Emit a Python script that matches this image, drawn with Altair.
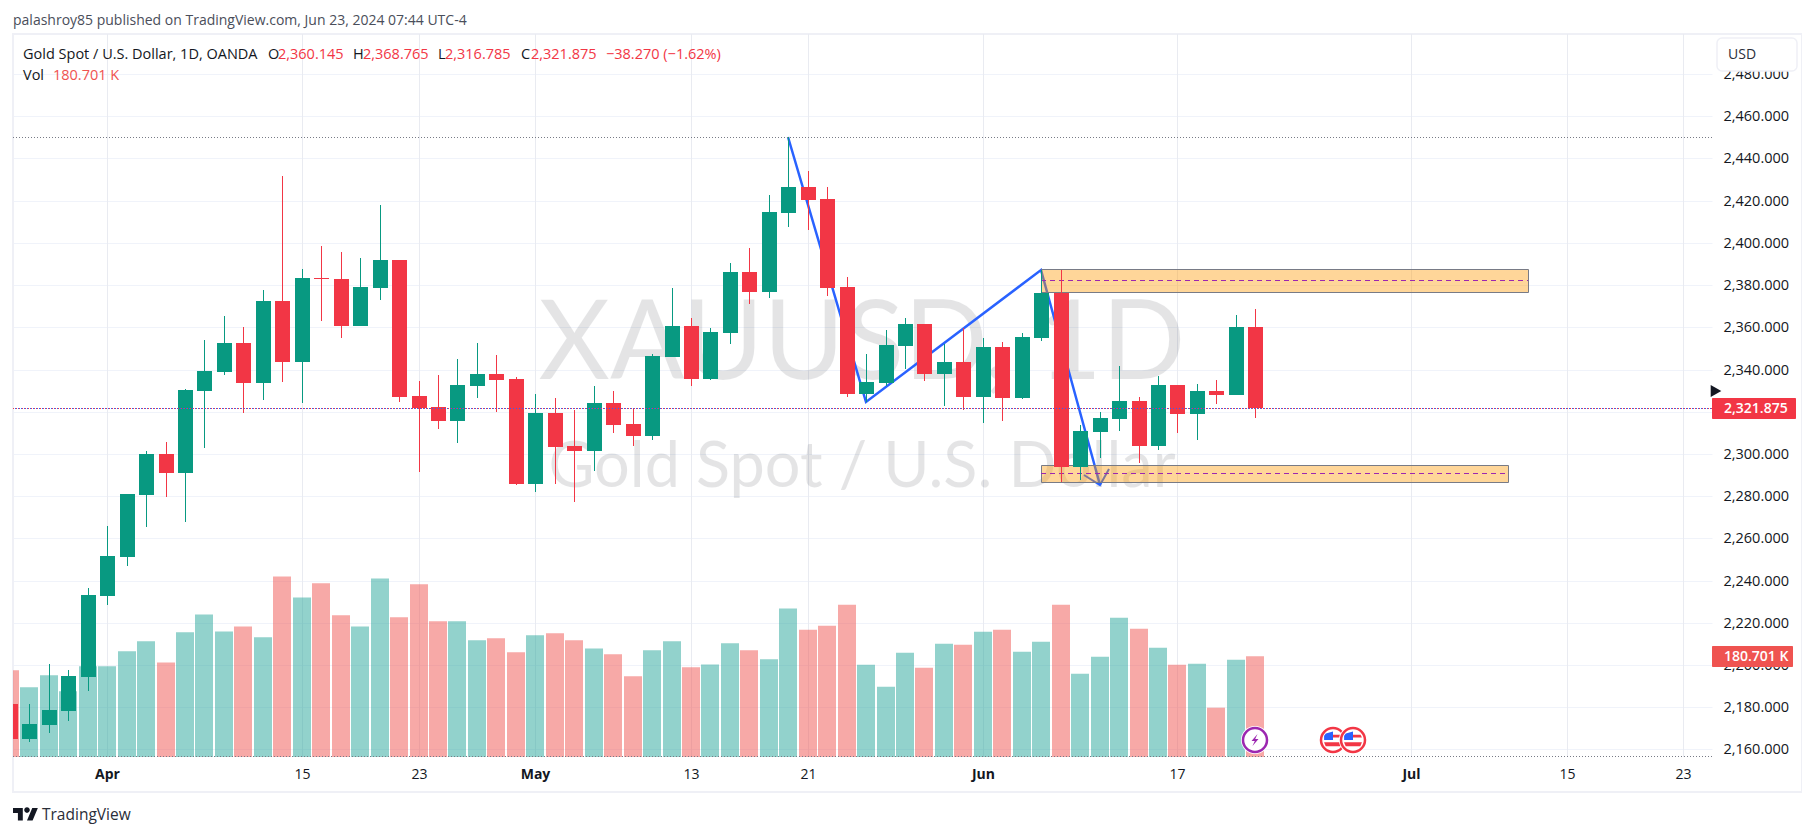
import altair as alt
import pandas as pd

# ---- values ----
bar_open = [2181.5,2164.9,2171.5,2178.2,2194.3,2232.6,2251.1,2280.5,2300.0,2291.0,2329.8,2338.8,2352.6,2333.6,2372.5,2343.6,2383.4,2382.9,2360.6,2378.6,2391.9,2327.4,2322.2,2315.6,2332.2,2337.9,2335.5,2285.7,2319.4,2303.7,2301.4,2324.1,2314.2,2308.5,2345.9,2360.6,2335.5,2357.3,2386.2,2376.7,2414.2,2426.5,2420.8,2379.1,2328.4,2333.6,2351.1,2361.6,2337.9,2343.6,2327.0,2350.7,2326.5,2354.9,2376.2,2293.8,2310.4,2316.5,2325.1,2303.7,2332.7,2318.9,2329.8,2327.9,2360.145]
bar_high = [2181.5,2181.5,2200.4,2197.6,2236.5,2265.8,2281.0,2301.4,2305.6,2330.8,2354.0,2365.4,2360.1,2377.7,2431.7,2387.6,2398.5,2395.7,2392.8,2418.0,2391.9,2334.6,2337.4,2345.0,2352.6,2346.9,2336.5,2328.4,2326.5,2320.8,2332.2,2329.8,2321.8,2347.4,2378.6,2364.4,2359.7,2390.5,2397.6,2422.7,2450.2,2434.1,2426.5,2383.8,2347.4,2358.7,2364.4,2361.6,2352.1,2359.7,2354.9,2353.0,2357.3,2387.1,2387.1,2313.7,2319.9,2341.7,2327.0,2336.9,2332.7,2333.1,2335.0,2365.8,2368.765]
bar_low = [2164.9,2163.5,2167.7,2173.4,2187.6,2228.4,2246.9,2265.4,2279.6,2267.7,2302.8,2337.4,2319.4,2325.5,2334.1,2324.1,2363.0,2354.9,2360.6,2372.9,2324.6,2291.4,2311.8,2305.2,2326.5,2319.9,2285.3,2281.9,2285.7,2277.2,2291.9,2309.9,2303.7,2306.6,2345.9,2332.2,2335.0,2352.1,2371.0,2373.9,2407.5,2406.1,2374.8,2327.0,2324.6,2332.2,2340.2,2334.6,2322.7,2320.8,2314.6,2315.6,2326.0,2353.5,2286.7,2287.6,2298.1,2310.9,2295.7,2301.8,2309.9,2306.6,2323.7,2327.9,2316.785]
bar_close = [2164.9,2172.0,2178.6,2194.7,2233.1,2251.6,2281.0,2300.0,2291.0,2330.3,2339.3,2352.6,2333.6,2372.5,2343.6,2383.4,2382.9,2360.6,2379.1,2391.9,2327.0,2321.8,2315.6,2332.7,2337.9,2335.0,2285.7,2319.4,2303.3,2301.4,2324.1,2313.7,2308.5,2346.4,2360.6,2335.5,2357.8,2386.2,2376.7,2414.6,2426.5,2420.3,2378.6,2328.4,2334.1,2351.6,2361.6,2337.9,2343.6,2327.0,2350.7,2326.5,2355.4,2376.2,2293.8,2310.9,2317.0,2325.1,2303.7,2332.7,2318.9,2329.8,2327.9,2360.1,2321.875]
volume_k = [155.5,125.0,146.5,117.8,162.7,162.7,189.6,207.5,169.8,223.7,255.9,225.4,234.4,214.7,324.1,286.4,311.6,254.2,234.4,320.5,250.6,309.8,243.4,243.4,209.3,212.9,187.8,218.3,221.9,209.3,194.9,184.2,144.7,191.4,207.5,160.9,166.2,203.9,191.4,175.2,266.7,228.4,235.6,273.3,165.6,126.2,187.2,160.3,203.3,201.5,224.8,228.4,189.0,206.9,273.3,149.5,180.0,250.0,230.2,196.1,165.6,167.4,88.5,174.6,180.701]

tick_bars = [5,15,21,27,35,41,50,60,72,80,86]
tick_labels = ["Apr","15","23","May","13","21","Jun","17","Jul","15","23"]
month_bars = [5,27,50,72]
price_ticks = [2160,2180,2200,2220,2240,2260,2280,2300,2320,2340,2360,2380,2400,2420,2440,2460,2480]

zigzag_bar = [40,44,53,56]
zigzag_price = [2450.2,2324.6,2387.3,2285.3]
arrow_bar = [55.18,56,56.46]
arrow_price = [2290.0,2285.3,2292.7]

box_bar1 = [53,53]
box_bar2 = [78,77]
box_top = [2387.5,2294.6]
box_bottom = [2376.6,2286.5]
box_mid = [2382.3,2290.8]

high_line = 2450.2
low_line = 2157.0
last_close = 2321.875
event_bolt = [64]
event_flags = [68,69]

# ---- layout ----
PL, PT, W, H = 13, 34, 1699, 723
XD = [0.16, 87.47]
YD = [2156.36, 2499.0]
VD = [0, 1297.4]
FONT = "Open Sans"
INK = "#131722"
UP, DOWN = "#089981", "#f23645"
VUP, VDOWN = "#26a69a", "#ef5350"
GRID = "#f0f3fa"

xs = alt.Scale(domain=XD, round=True, nice=False, zero=False, padding=0)
ys = alt.Scale(domain=YD, round=True, nice=False, zero=False, padding=0)

x_axis = alt.Axis(values=tick_bars, grid=False, domain=False, ticks=False,
                  labelPadding=10, labelFontSize=14, labelFont=FONT, labelColor=INK,
                  labelExpr="{" + ",".join(f"'{b}':'{t}'" for b, t in zip(tick_bars, tick_labels)) + "}[datum.value]",
                  labelFontWeight={"expr": "indexof(" + str(month_bars) + ",datum.value)>=0 ? 'bold' : 'normal'"},
                  labelOverlap=False, labelFlush=False)
y_axis = alt.Axis(values=price_ticks, orient="right", grid=True, gridColor=GRID, gridWidth=1, domain=False, ticks=False,
                  labelPadding=11, labelFontSize=14.5, labelFont=FONT, labelColor=INK, format=",.3f", labelOverlap=False)

def X(f):
    return alt.X(f, title=None, scale=xs, axis=x_axis)
def Y(f, axis=None):
    return alt.Y(f, title=None, scale=ys, axis=axis)

one = pd.DataFrame({"a": [0]})

def text(s, px, py, color=INK, size=14.5, weight="normal", align="left", opacity=1.0, font=FONT):
    return alt.Chart(pd.DataFrame({"t": [s]})).mark_text(
        align=align, baseline="alphabetic", color=color, fontSize=size, fontWeight=weight,
        opacity=opacity, font=font
    ).encode(text="t:N", x=alt.value(px - PL), y=alt.value(py - PT))

def prect(x1, y1, x2, y2, fill, stroke=None, sw=0, radius=0, fo=1.0):
    kw = {"fill": fill, "fillOpacity": fo, "strokeWidth": sw}
    if stroke:
        kw["stroke"] = stroke
    if radius:
        kw["cornerRadius"] = radius
    return alt.Chart(one).mark_rect(**kw).encode(
        x=alt.value(x1 - PL), x2=alt.value(x2 - PL), y=alt.value(y1 - PT), y2=alt.value(y2 - PT))

candles = pd.DataFrame({"i": range(len(bar_open)), "o": bar_open, "h": bar_high, "l": bar_low, "c": bar_close, "v": volume_k})
candles["up"] = candles.c >= candles.o

frame = prect(13, 34, 1802, 792, "#ffffff", stroke="#eff0f6", sw=2, fo=0)

vgrid = alt.Chart(pd.DataFrame({"i": tick_bars})).mark_rule(color="#e9ebf1", strokeWidth=1, xOffset=0.5).encode(
    x=X("i:Q"), y=alt.value(0), y2=alt.value(H))

watermark = [
    text("XAUUSD, 1D", 862, 379, size=110, align="center", opacity=0.11, font="Lato"),
    text("Gold Spot / U.S. Dollar", 862, 487, size=63, align="center", opacity=0.11, font="Lato"),
]

vol = alt.Chart(candles).mark_bar(size=18, opacity=0.5, clip=True).encode(
    x=X("i:Q"),
    y=alt.Y("v:Q", title=None, axis=None, scale=alt.Scale(domain=VD, nice=False, zero=True)),
    color=alt.condition("datum.up", alt.value(VUP), alt.value(VDOWN)),
)

zig = alt.Chart(pd.DataFrame({"i": zigzag_bar, "p": zigzag_price, "s": range(4)})).mark_line(
    color="#2962ff", strokeWidth=2.5, clip=True).encode(x=X("i:Q"), y=Y("p:Q"), order="s:Q")
arr = alt.Chart(pd.DataFrame({"i": arrow_bar, "p": arrow_price, "s": range(3)})).mark_line(
    color="#2962ff", strokeWidth=2, clip=True).encode(x=X("i:Q"), y=Y("p:Q"), order="s:Q")

boxes = pd.DataFrame({"a": box_bar1, "b": box_bar2, "t": box_top, "u": box_bottom, "m": box_mid})
box = alt.Chart(boxes).mark_rect(fill="#ff9800", fillOpacity=0.4, stroke="#787b86", strokeWidth=1, xOffset=0.5, x2Offset=0.5, yOffset=0.5, y2Offset=0.5).encode(
    x=X("a:Q"), x2="b:Q", y=Y("t:Q"), y2="u:Q")
mid = alt.Chart(boxes).mark_rule(color="#9c27b0", strokeWidth=1, strokeDash=[5, 4], yOffset=0.5).encode(
    x=X("a:Q"), x2="b:Q", y=Y("m:Q"))

wick = alt.Chart(candles).mark_rule(strokeWidth=1, xOffset=0.5, clip=True).encode(
    x=X("i:Q"), y=Y("h:Q", axis=y_axis), y2="l:Q",
    color=alt.condition("datum.up", alt.value(UP), alt.value(DOWN)))
body = alt.Chart(candles).mark_bar(size=15, xOffset=0.5, clip=True).encode(
    x=X("i:Q"), y=Y("o:Q"), y2="c:Q",
    color=alt.condition("datum.up", alt.value(UP), alt.value(DOWN)))

def hline(v, color, dash, dashoff=0):
    return alt.Chart(pd.DataFrame({"p": [v]})).mark_rule(
        color=color, strokeWidth=1, strokeDash=dash, strokeDashOffset=dashoff, yOffset=0.5
    ).encode(y=Y("p:Q"))

lines = [hline(high_line, "#787b86", [1, 2]), hline(low_line, "#787b86", [1, 2]),
         hline(last_close, "#f23645", [1, 2]), hline(last_close, "#2962ff", [1, 2], 2)]

def sym(shape, xval, py, size, fill=None, stroke=None, sw=0):
    kw = {"shape": shape, "size": size, "opacity": 1, "strokeWidth": sw, "filled": fill is not None}
    if fill:
        kw["fill"] = fill
    if stroke:
        kw["stroke"] = stroke
    return alt.Chart(pd.DataFrame({"i": xval})).mark_point(**kw).encode(x=X("i:Q"), y=alt.value(py - PT))

BOLT = "M0.25 -0.6L-0.35 0.1L-0.02 0.1L-0.25 0.6L0.35 -0.1L0.02 -0.1Z"
CANTON = "M-0.68 -0.62L0 -0.8L0 0L-0.85 0L-0.85 -0.4Z"
STRIPE1 = "M0 -0.5L0.72 -0.5L0.85 -0.25L0 -0.25Z"
STRIPE2 = "M-0.85 0.22L0.85 0.22L0.7 0.6L-0.7 0.6Z"

events = [
    sym("circle", event_bolt, 740, 784, fill="#ffffff"),
    sym("circle", event_bolt, 740, 576, fill="#ffffff", stroke="#9c27b0", sw=2.5),
    sym(BOLT, event_bolt, 740, 400, fill="#9c27b0"),
]
for f in event_flags:
    events += [
        sym("circle", [f], 740, 784, fill="#ffffff"),
        sym("circle", [f], 740, 576, fill="#ffffff", stroke="#f23645", sw=2.5),
        sym(CANTON, [f], 740, 440, fill="#2962ff"),
        sym(STRIPE1, [f], 740, 440, fill="#f23645"),
        sym(STRIPE2, [f], 740, 440, fill="#f23645"),
    ]

arrow_tip = alt.Chart(one).mark_point(shape="triangle-right", filled=True, color=INK, size=150, opacity=1).encode(
    x=alt.value(1716 - PL), y=alt.value(391 - PT))

LOGO = ("M-0.222 0.444L-0.611 0.444L-0.611 -0.167L-1 -0.167L-1 -0.556L-0.222 -0.556Z"
        "M0.556 0.444L0.111 0.444L0.528 -0.556L0.972 -0.556Z"
        "M-0.111 -0.389a0.222 0.222 0 1 0 0.444 0a0.222 0.222 0 1 0 -0.444 0Z")
logo = alt.Chart(one).mark_point(shape=LOGO, filled=True, color=INK, size=635, opacity=1, strokeWidth=0).encode(
    x=alt.value(25.6 - PL), y=alt.value(815 - PT))

ui = [
    prect(1717, 38, 1797, 71, "#ffffff", stroke="#eff0f6", sw=1.5, radius=5),
    text("USD", 1728, 59, color="#2a2e39", size=14),
    prect(1712, 646, 1793, 667, VDOWN, radius=1),
    text("180.701 K", 1724, 661, color="#ffffff", size=14, weight=600),
    prect(1712, 398, 1796, 419, DOWN, radius=1),
    text("2,321.875", 1724, 413, color="#ffffff", size=14, weight=600),
    arrow_tip,
    text("palashroy85 published on TradingView.com, Jun 23, 2024 07:44 UTC-4", 13, 25, color="#4a4e5a", size=14),
    text("Gold Spot / U.S. Dollar, 1D, OANDA", 23, 59),
    text("O", 268, 59), text("2,360.145", 278, 59, color=DOWN),
    text("H", 353, 59), text("2,368.765", 363, 59, color=DOWN),
    text("L", 438, 59), text("2,316.785", 445, 59, color=DOWN),
    text("C", 521, 59), text("2,321.875", 531, 59, color=DOWN),
    text("−38.270 (−1.62%)", 606, 59, color=DOWN),
    text("Vol", 23, 80),
    text("180.701 K", 53, 80, color=VDOWN),
    logo,
    text("TradingView", 42, 820, color="#2a2e39", size=15.5),
]

chart = alt.layer(
    frame, vgrid, *watermark, vol, zig, arr, box, mid, wick, body, *lines, *events, *ui
).resolve_scale(y="independent").properties(
    width=W, height=H,
    padding={"left": PL - 8, "top": PT - 8, "right": 90, "bottom": 70},
    autosize=alt.AutoSizeParams(type="none", contains="content"),
    background="#ffffff",
).configure_view(stroke=None)

chart.save("out.html", embed_options={"renderer": "svg", "actions": False})
